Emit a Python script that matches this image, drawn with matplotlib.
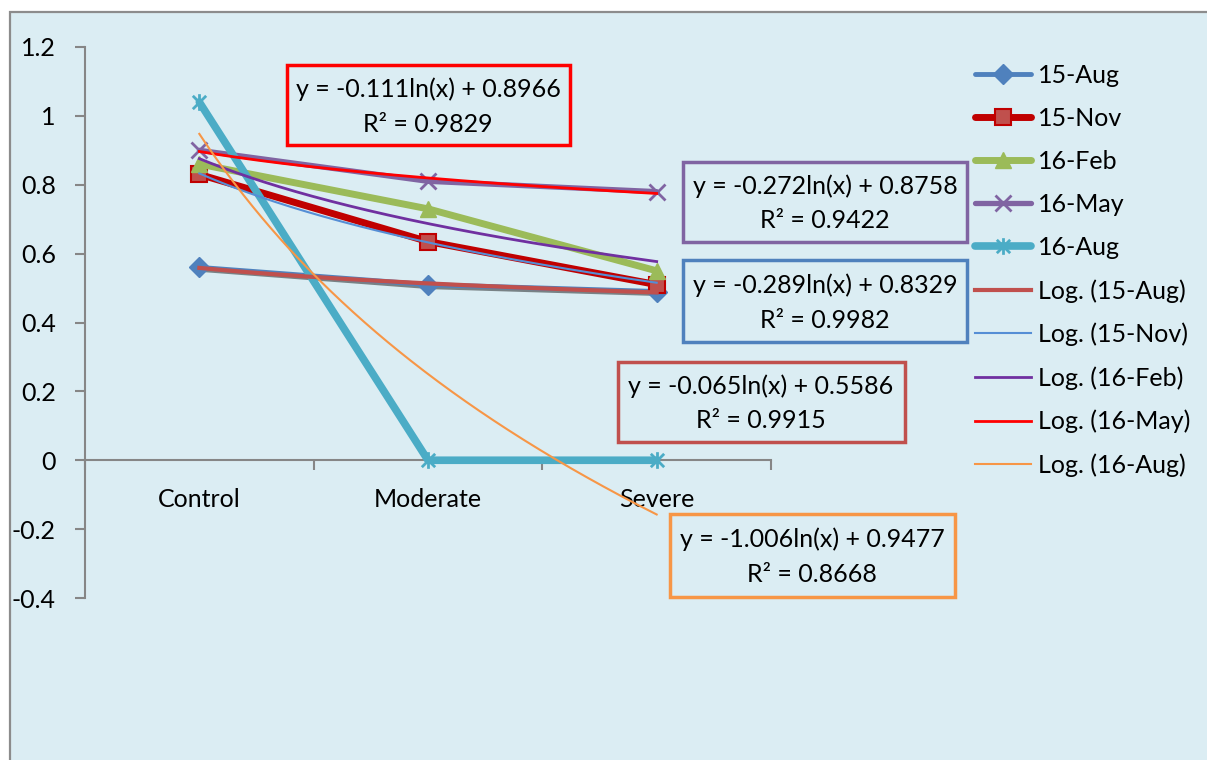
import numpy as np
import matplotlib.pyplot as plt
import matplotlib.patheffects as pe
from matplotlib.patches import Rectangle
from matplotlib.path import Path

plt.rcParams['font.family'] = ['Lato', 'DejaVu Sans']

# categories and measured values per sampling date
categories = ['Control', 'Moderate', 'Severe']
series_names = ['15-Aug', '15-Nov', '16-Feb', '16-May', '16-Aug']
aug15 = [0.56, 0.51, 0.49]
nov15 = [0.83, 0.635, 0.51]
feb16 = [0.86, 0.73, 0.55]
may16 = [0.90, 0.81, 0.78]
aug16 = [1.04, 0.0, 0.0]

# logarithmic trendline coefficients: y = a*ln(x) + b
trend_a = [-0.065, -0.289, -0.272, -0.111, -1.006]
trend_b = [0.5586, 0.8329, 0.8758, 0.8966, 0.9477]
trend_r2 = [0.9915, 0.9982, 0.9422, 0.9829, 0.8668]

W, H = 1207, 760
bg = '#DBEDF3'
axis_grey = '#868686'
fs = 18

fig = plt.figure(figsize=(W / 100, H / 100), dpi=100, facecolor='white')
# chart area: grey border on top and left only, running off the image elsewhere
fig.patches.append(Rectangle((10 / W, -0.1), 1.0, (H - 12) / H + 0.1, transform=fig.transFigure,
                             facecolor=bg, edgecolor='#8C8C8C', linewidth=1.6, zorder=-5))

def px(x, y):
    return x / W, 1 - y / H

ax = fig.add_axes([85 / W, 1 - 598 / H, (771 - 85) / W, (598 - 47) / H])
ax.set_facecolor('none')

x = np.arange(1, 4)

# excel-like star marker: x with a vertical bar
star = Path([(0, -1), (0, 1), (-0.8, -0.8), (0.8, 0.8), (-0.8, 0.8), (0.8, -0.8)],
            [Path.MOVETO, Path.LINETO, Path.MOVETO, Path.LINETO, Path.MOVETO, Path.LINETO])

styles = [
    dict(color='#4F81BD', lw=3.5, marker='D', ms=10, mfc='#4F81BD', mec='#4F81BD'),
    dict(color='#C00000', lw=5, marker='s', ms=11.5, mfc='#C0504D', mec='#C00000', mew=1.5),
    dict(color='#9BBB59', lw=5, marker='^', ms=12, mfc='#9BBB59', mec='#9BBB59'),
    dict(color='#8064A2', lw=3.8, marker='x', ms=12, mec='#8064A2', mew=2),
    dict(color='#4BACC6', lw=5.5, marker=star, ms=12, mec='#4BACC6', mew=2),
]
values = [aug15, nov15, feb16, may16, aug16]

# soft drop shadow under the 15-Aug line
shadow, = ax.plot(x, aug15, color='#4F81BD', lw=3.5, zorder=2.5, clip_on=False)
shadow.set_path_effects([pe.SimpleLineShadow(offset=(1, -1.5), alpha=0.45)])

handles = []
for name, vals, st in zip(series_names, values, styles):
    h, = ax.plot(x, vals, label=name, solid_capstyle='round', zorder=3, clip_on=False, **st)
    handles.append(h)

# trendlines on top of the series
trend_colors = ['#C0504D', '#558ED5', '#7030A0', '#FF0000', '#F79646']
trend_lw = [3, 1.5, 2, 2, 1.5]
xs = np.linspace(1, 3, 200)
for name, a, b, c, lw in zip(series_names, trend_a, trend_b, trend_colors, trend_lw):
    h, = ax.plot(xs, a * np.log(xs) + b, color=c, lw=lw, label='Log. (%s)' % name,
                 zorder=4, clip_on=False)
    handles.append(h)

ax.set_xlim(0.5, 3.5)
ax.set_ylim(-0.4, 1.2)
ax.set_yticks(np.arange(-0.4, 1.21, 0.2))
ax.set_yticklabels(['-0.4', '-0.2', '0', '0.2', '0.4', '0.6', '0.8', '1', '1.2'])

for s in ['top', 'right']:
    ax.spines[s].set_visible(False)
ax.spines['bottom'].set_position(('data', 0))
for s in ['left', 'bottom']:
    ax.spines[s].set_color(axis_grey)
    ax.spines[s].set_linewidth(1.5)

ax.set_xticks([0.5, 1.5, 2.5, 3.5])
ax.set_xticklabels([])
ax.set_xticks(x, minor=True)
ax.set_xticklabels(categories, minor=True)
ax.tick_params(axis='x', which='major', direction='out', length=7, width=1.5, color=axis_grey)
ax.tick_params(axis='x', which='minor', length=0, pad=20, labelsize=fs)
ax.tick_params(axis='y', direction='out', length=7, width=1.5, color=axis_grey, pad=14, labelsize=fs)

# equation boxes: (centre x, centre y, width, height) in pixels
boxes = [(761, 402, 287, 80), (825, 301, 284, 81), (825, 202, 284, 80),
         (428, 105, 283, 79), (812, 555, 285, 83)]
box_colors = ['#C0504D', '#4F81BD', '#8064A2', '#FF0000', '#F79646']
for (cx, cy, bw, bh), a, b, r2, c in zip(boxes, trend_a, trend_b, trend_r2, box_colors):
    x0, y0 = px(cx - bw / 2, cy + bh / 2)
    fig.patches.append(Rectangle((x0, y0), bw / W, bh / H, transform=fig.transFigure,
                                 facecolor=bg, edgecolor=c, linewidth=2.5, zorder=5))
    tx, ty = px(cx, cy - 16)
    fig.text(tx, ty, 'y = %.3fln(x) + %.4f' % (a, b), ha='center', va='center',
             fontsize=fs, zorder=6)
    tx, ty = px(cx, cy + 19)
    fig.text(tx, ty, 'R² = %.4f' % r2, ha='center', va='center', fontsize=fs, zorder=6)

lx, ly = px(975, 64)
fig.legend(handles=handles, loc='upper left', bbox_to_anchor=(lx, ly), frameon=False,
           fontsize=fs, handlelength=2.25, handletextpad=0.28, labelspacing=0.8,
           borderaxespad=0, borderpad=0)

fig.savefig('out.png', dpi=100, facecolor='white')
